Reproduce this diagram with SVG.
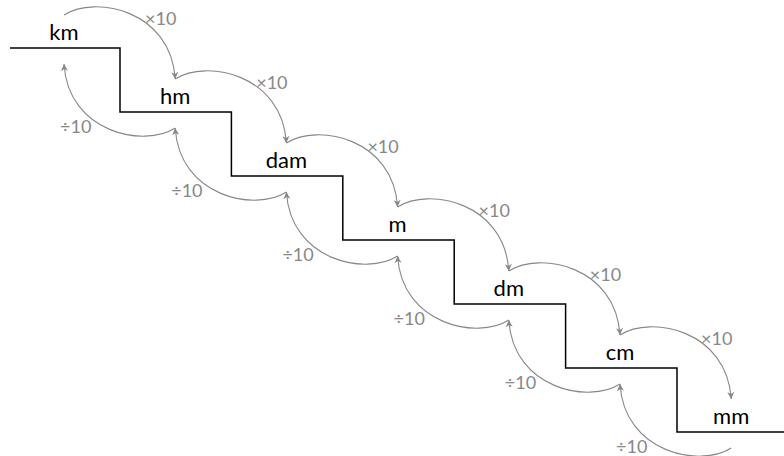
<svg xmlns="http://www.w3.org/2000/svg" width="784" height="456" viewBox="0 0 784 456">
<style>
.lbl{font-family:Lato,"Open Sans","Liberation Sans",sans-serif;font-size:22px;fill:#000;text-anchor:middle}
.op{font-family:Lato,"Open Sans","Liberation Sans",sans-serif;font-size:18px;fill:#888}
.arr{fill:none;stroke:#888;stroke-width:1.1;marker-end:url(#ah)}
.stair{fill:none;stroke:#000;stroke-width:1.5}
</style>
<defs>
<marker id="ah" markerUnits="userSpaceOnUse" viewBox="-8 -5 10 10" refX="0" refY="0" markerWidth="10" markerHeight="10" orient="auto">
<path d="M-7,-3.5 L0,0 L-7,3.5 L-5,0 z" fill="#888"/>
</marker>
</defs>
<path id="stairs" class="stair" d="M10,48 H120 V112 H231.4 V176 H342.8 V240 H454.2 V304 H565.6 V368 H677 V432 H784"/>
<g id="connectors">
<path class="arr" d="M64,15 C95,-5 171,10 175.2,79"/>
<path class="arr" d="M175.2,79 C206.2,59 282.2,74 286.4,143"/>
<path class="arr" d="M286.4,143 C317.4,123 393.4,138 397.6,207"/>
<path class="arr" d="M397.6,207 C428.6,187 504.6,202 508.8,271"/>
<path class="arr" d="M508.8,271 C539.8,251 615.8,266 620,335"/>
<path class="arr" d="M620,335 C651,315 727,330 731.2,399"/>
<path class="arr" d="M175.2,128 C144.2,148 68.2,133 64,64"/>
<path class="arr" d="M286.4,192 C255.4,212 179.4,197 175.2,128"/>
<path class="arr" d="M397.6,256 C366.6,276 290.6,261 286.4,192"/>
<path class="arr" d="M508.8,320 C477.8,340 401.8,325 397.6,256"/>
<path class="arr" d="M620,384 C589,404 513,389 508.8,320"/>
<path class="arr" d="M731.2,448 C700.2,468 624.2,453 620,384"/>
<text class="op" x="145" y="25">×10</text>
<text class="op" x="256.2" y="89">×10</text>
<text class="op" x="367.4" y="153">×10</text>
<text class="op" x="478.6" y="217">×10</text>
<text class="op" x="589.8" y="281">×10</text>
<text class="op" x="701" y="345">×10</text>
<text class="op" x="60" y="133">÷10</text>
<text class="op" x="171.2" y="197">÷10</text>
<text class="op" x="282.4" y="261">÷10</text>
<text class="op" x="393.6" y="325">÷10</text>
<text class="op" x="504.8" y="389">÷10</text>
<text class="op" x="616" y="453">÷10</text>
</g>
<g id="km"><text class="lbl" x="64" y="40">km</text></g>
<g id="hm"><text class="lbl" x="175.2" y="104">hm</text></g>
<g id="dam"><text class="lbl" x="286.4" y="168">dam</text></g>
<g id="m"><text class="lbl" x="397.6" y="232">m</text></g>
<g id="dm"><text class="lbl" x="508.8" y="296">dm</text></g>
<g id="cm"><text class="lbl" x="620" y="360">cm</text></g>
<g id="mm"><text class="lbl" x="731.2" y="424">mm</text></g>
</svg>
